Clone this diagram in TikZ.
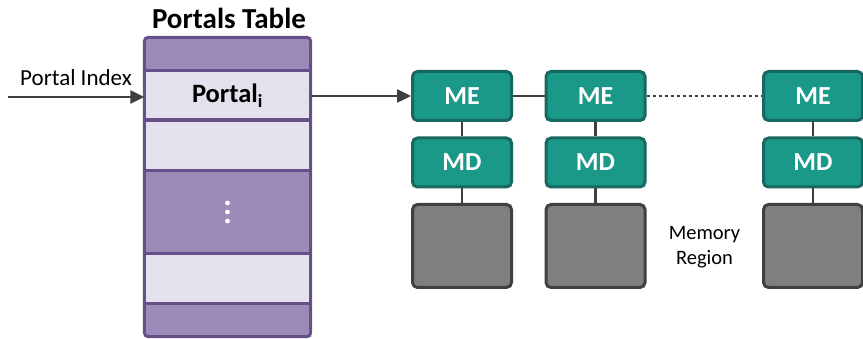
\documentclass[tikz,border=0pt]{standalone}
\usepackage{fontspec}
\setmainfont{Carlito}
\usetikzlibrary{arrows.meta}
\definecolor{tpurple}{HTML}{9D8AB8}
\definecolor{tpurpleD}{HTML}{65508A}
\definecolor{tlight}{HTML}{E4E1EE}
\definecolor{tteal}{HTML}{1A9988}
\definecolor{ttealD}{HTML}{17695F}
\definecolor{tgrey}{HTML}{7F7F7F}
\definecolor{tgreyD}{HTML}{404040}
\definecolor{tline}{HTML}{3F3F3F}
\tikzset{
  mebox/.style={draw=ttealD, fill=tteal, line width=3pt, rounded corners=5pt,
    minimum width=99pt, minimum height=49pt, inner sep=0pt, text=white,
    font=\fontsize{26}{30}\selectfont\bfseries},
  mrbox/.style={draw=tgreyD, fill=tgrey, line width=3pt, rounded corners=5pt,
    minimum width=99pt, minimum height=83pt, inner sep=0pt},
  rowbox/.style={fill=tlight, minimum width=166pt, inner sep=0pt},
  conn/.style={draw=tline, line width=2.5pt},
  arr/.style={conn, -{Triangle[length=14pt,width=13pt]}},
}
\begin{document}
\begin{tikzpicture}[x=1pt,y=-1pt]
\useasboundingbox (0,0) rectangle (863,339);
% title
\node[font=\fontsize{29}{34}\selectfont\bfseries] (title) at (229,18) {Portals Table};
% table frame
\node[fill=tpurple, minimum width=166pt, minimum height=299pt, inner sep=0pt] (tbl) at (227.5,187) {};
\node[rowbox, minimum height=49pt, font=\fontsize{26.5}{30}\selectfont\bfseries] (portal) at (227.5,95.5) {\raisebox{-1.5pt}{Portal\textsubscript{i}}};
\node[rowbox, minimum height=50pt] (row2) at (227.5,145) {};
\node[minimum width=166pt, minimum height=84pt, inner sep=0pt] (dots) at (227.5,212) {};
\node[rowbox, minimum height=49pt] (row4) at (227.5,278.5) {};
\foreach \d in {-9,0,9} \fill[white] ([yshift=-\d pt]dots.center) circle (2.4pt);
\foreach \n in {portal,row2,row4} {
  \draw[tpurpleD, line width=3pt] (\n.north west) -- (\n.north east);
  \draw[tpurpleD, line width=3pt] (\n.south west) -- (\n.south east);
}
\draw[tpurpleD, line width=3pt, rounded corners=4pt] (tbl.north west) rectangle (tbl.south east);
% portal index
\coordinate (pin) at (8,97);
\node[font=\fontsize{23}{27}\selectfont] (pilabel) at (76,78) {Portal Index};
\draw[arr] (pin) -- (portal.west |- pin);
% ME / MD / memory regions
\foreach \i/\x in {1/462,2/595.5,3/813} {
  \node[mebox] (me\i) at (\x,96) {ME};
  \node[mebox] (md\i) at (\x,162.5) {MD};
  \node[mrbox] (mr\i) at (\x,246) {};
  \draw[conn] (me\i.south) -- (md\i.north);
  \draw[conn] (md\i.south) -- (mr\i.north);
}
\draw[arr] (portal.east |- me1.west) -- (me1.west);
\draw[conn] (me1.east) -- (me2.west);
\draw[conn, line width=2pt, dash pattern=on 3pt off 3pt] (me2.east) -- (me3.west);
\node[font=\fontsize{20.5}{25}\selectfont, align=center] (mrlabel) at (704.5,247.5) {Memory\\Region};
\end{tikzpicture}
\end{document}
